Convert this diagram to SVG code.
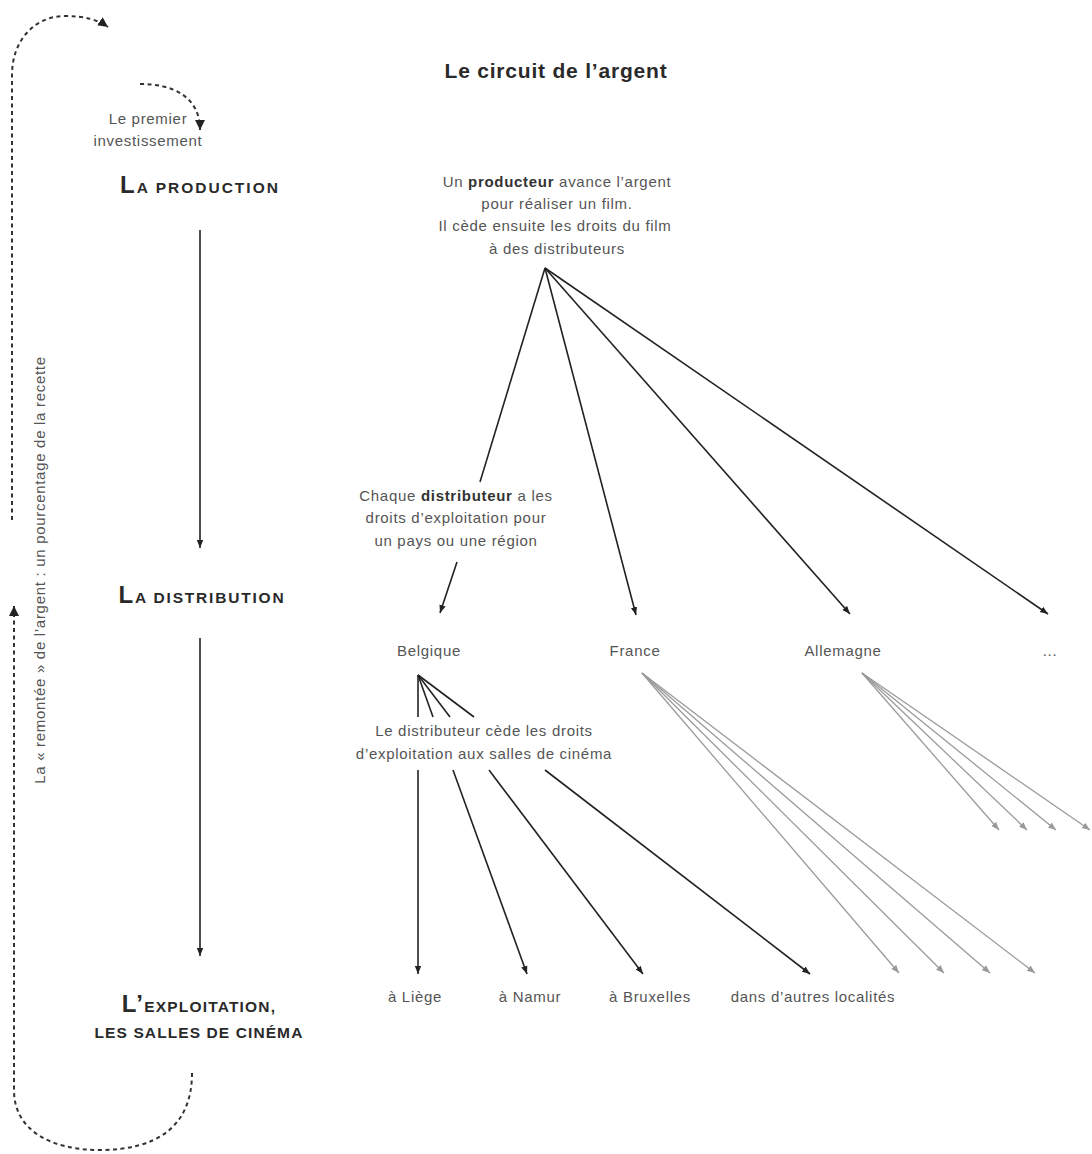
<svg xmlns="http://www.w3.org/2000/svg" width="1092" height="1154" viewBox="0 0 1092 1154">
<style>
.t{font-family:"Liberation Sans","DejaVu Sans",sans-serif;font-size:15px;letter-spacing:0.7px;fill:#555;text-anchor:middle}
.b{font-weight:bold;fill:#333}
.h{font-family:"Liberation Sans","DejaVu Sans",sans-serif;font-weight:bold;fill:#2a2a2a;text-anchor:middle}
.blk{stroke:#222;stroke-width:1.6;fill:none;marker-end:url(#ab)}
.gry{stroke:#9a9a9a;stroke-width:1.3;fill:none;marker-end:url(#ag)}
.dash{stroke:#333;stroke-width:2;fill:none;stroke-dasharray:4 3.5}
</style>
<defs>
<marker id="ab" viewBox="0 0 10 10" refX="10" refY="5" markerWidth="8" markerHeight="8" markerUnits="userSpaceOnUse" orient="auto"><path d="M0,1 L10,5 L0,9 Z" fill="#222"/></marker>
<marker id="ag" viewBox="0 0 10 10" refX="10" refY="5" markerWidth="8" markerHeight="8" markerUnits="userSpaceOnUse" orient="auto"><path d="M0,1 L10,5 L0,9 Z" fill="#999"/></marker>
<marker id="ad" viewBox="0 0 10 10" refX="10" refY="5" markerWidth="10" markerHeight="10" markerUnits="userSpaceOnUse" orient="auto"><path d="M0,0 L10,5 L0,10 Z" fill="#222"/></marker>
</defs>
<rect width="1092" height="1154" fill="#fff"/>

<text x="556" y="78" class="h" font-size="21" letter-spacing="0.8">Le circuit de l’argent</text>

<g id="return-loop">
<path class="dash" d="M12,520 L12,75 C12,40 35,16 65,16 C85,16 98,20 108,27" marker-end="url(#ad)"/>
<path class="dash" d="M192,1073 C192,1128 155,1150 100,1150 C50,1150 14,1130 14,1090 L14,606" marker-end="url(#ad)"/>
<text class="t" transform="translate(45,570) rotate(-90)" font-size="15.5" letter-spacing="0.9">La « remontée » de l’argent : un pourcentage de la recette</text>
</g>

<g id="first-investment">
<path class="dash" d="M140,84 C175,84 200,98 200,130" stroke-width="1.8" marker-end="url(#ad)"/>
<text class="t" x="148" y="124" font-size="12.5" letter-spacing="0.3">Le premier</text>
<text class="t" x="148" y="146" font-size="12.5" letter-spacing="0.3">investissement</text>
</g>

<g id="production">
<text class="h" x="200" y="193" font-size="15.5" letter-spacing="2"><tspan font-size="24">L</tspan>A PRODUCTION</text>
</g>
<g id="distribution">
<text class="h" x="202" y="603" font-size="15.5" letter-spacing="1.8"><tspan font-size="24">L</tspan>A DISTRIBUTION</text>
</g>
<g id="exploitation">
<text class="h" x="199" y="1012" font-size="15.5" letter-spacing="1.2"><tspan font-size="24">L’</tspan>EXPLOITATION,</text>
<text class="h" x="199" y="1038" font-size="15.5" letter-spacing="1.1">LES SALLES DE CINÉMA</text>
</g>

<g id="producteur">
<text class="t" x="557" y="187">Un <tspan class="b">producteur</tspan> avance l’argent</text>
<text class="t" x="557" y="209">pour réaliser un film.</text>
<text class="t" x="555" y="231">Il cède ensuite les droits du film</text>
<text class="t" x="557" y="254">à des distributeurs</text>
</g>

<g id="distributeur-note">
<text class="t" x="456" y="501">Chaque <tspan class="b">distributeur</tspan> a les</text>
<text class="t" x="456" y="523">droits d’exploitation pour</text>
<text class="t" x="456" y="546">un pays ou une région</text>
</g>

<g id="countries">
<text class="t" x="429" y="656">Belgique</text>
<text class="t" x="635" y="656">France</text>
<text class="t" x="843" y="656">Allemagne</text>
<text class="t" x="1050" y="656">...</text>
</g>

<g id="cede-note">
<text class="t" x="484" y="736">Le distributeur cède les droits</text>
<text class="t" x="484" y="759">d’exploitation aux salles de cinéma</text>
</g>

<g id="localities">
<text class="t" x="415" y="1002">à Liège</text>
<text class="t" x="530" y="1002">à Namur</text>
<text class="t" x="650" y="1002">à Bruxelles</text>
<text class="t" x="813" y="1002">dans d’autres localités</text>
</g>

<g id="connectors">
<line class="blk" x1="200" y1="230" x2="200" y2="548"/>
<line class="blk" x1="200" y1="638" x2="200" y2="956"/>

<line x1="545" y1="268" x2="480" y2="482" stroke="#222" stroke-width="1.6"/>
<line class="blk" x1="457" y1="562" x2="440" y2="613"/>
<line class="blk" x1="545" y1="268" x2="636" y2="615"/>
<line class="blk" x1="545" y1="268" x2="850" y2="614"/>
<line class="blk" x1="545" y1="268" x2="1048" y2="614"/>

<line x1="418" y1="675" x2="418" y2="717" stroke="#222" stroke-width="1.6"/>
<line x1="418" y1="675" x2="433" y2="717" stroke="#222" stroke-width="1.6"/>
<line x1="418" y1="675" x2="450" y2="717" stroke="#222" stroke-width="1.6"/>
<line x1="418" y1="675" x2="474" y2="717" stroke="#222" stroke-width="1.6"/>
<line class="blk" x1="418" y1="770" x2="418" y2="974"/>
<line class="blk" x1="453" y1="770" x2="527" y2="974"/>
<line class="blk" x1="489" y1="770" x2="643" y2="974"/>
<line class="blk" x1="545" y1="770" x2="810" y2="974"/>

<line class="gry" x1="642" y1="673" x2="899" y2="973"/>
<line class="gry" x1="642" y1="673" x2="944" y2="973"/>
<line class="gry" x1="642" y1="673" x2="990" y2="973"/>
<line class="gry" x1="642" y1="673" x2="1035" y2="973"/>

<line class="gry" x1="862" y1="673" x2="999" y2="830"/>
<line class="gry" x1="862" y1="673" x2="1027" y2="830"/>
<line class="gry" x1="862" y1="673" x2="1056" y2="830"/>
<line class="gry" x1="862" y1="673" x2="1090" y2="830"/>
</g>
</svg>
